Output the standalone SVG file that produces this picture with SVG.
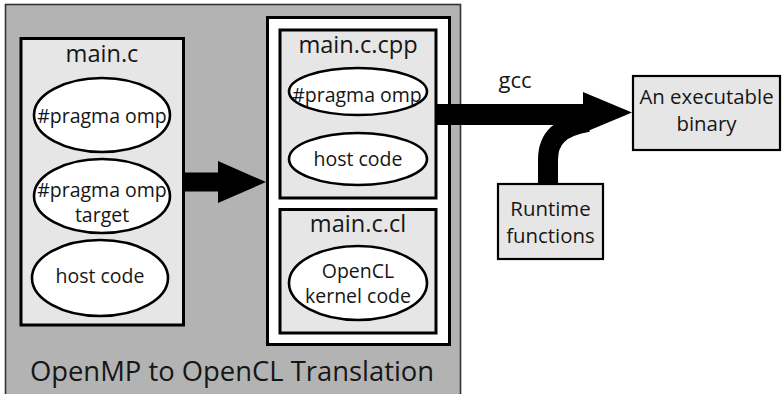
<svg xmlns="http://www.w3.org/2000/svg" width="783" height="394" viewBox="0 0 783 394">
  <style>
    text { font-family: "Open Sans", "Noto Sans", sans-serif; fill: #161616; text-anchor: middle; }
    .title { font-size: 23.6px; }
    .oval-text { font-size: 19.5px; }
    .box-text { font-size: 20.4px; }
    .big { font-size: 27.4px; }
    .file { fill: #e6e6e6; stroke: #000; stroke-width: 3; }
    .oval { fill: #fff; stroke: #000; stroke-width: 2.6; }
    .small-box { fill: #e6e6e6; stroke: #000; stroke-width: 2.2; }
    .flow { fill: #000; stroke: none; }
  </style>

  <!-- translation stage: grey panel -->
  <g id="translation">
    <rect x="5.5" y="4.5" width="455" height="392" fill="#b3b3b3" stroke="#333" stroke-width="1.6"/>
    <text class="big" x="232" y="381">OpenMP to OpenCL Translation</text>
  </g>

  <!-- source file -->
  <g id="main-c">
    <rect class="file" x="21" y="38.5" width="162.5" height="286.5"/>
    <text class="title" x="102" y="62">main.c</text>
    <ellipse class="oval" cx="102" cy="115" rx="68" ry="37"/>
    <text class="oval-text" x="102" y="123">#pragma omp</text>
    <ellipse class="oval" cx="102" cy="196" rx="68" ry="37"/>
    <text class="oval-text" x="102" y="197">#pragma omp</text>
    <text class="oval-text" x="102" y="222">target</text>
    <ellipse class="oval" cx="100" cy="278" rx="68" ry="38"/>
    <text class="oval-text" x="100" y="283">host code</text>
  </g>

  <!-- generated output files -->
  <g id="output">
    <rect x="267.5" y="17.5" width="182" height="327" fill="#fff" stroke="#000" stroke-width="3"/>
  </g>

  <g id="main-c-cpp">
    <rect class="file" x="280" y="30" width="156" height="168"/>
    <text class="title" x="358" y="53">main.c.cpp</text>
    <ellipse class="oval" cx="358" cy="91.5" rx="69" ry="23.5"/>
    <text class="oval-text" x="357" y="102">#pragma omp</text>
    <ellipse class="oval" cx="358" cy="159" rx="69" ry="26"/>
    <text class="oval-text" x="358" y="166">host code</text>
  </g>

  <g id="main-c-cl">
    <rect class="file" x="280" y="209.5" width="156" height="123.5"/>
    <text class="title" x="358" y="232">main.c.cl</text>
    <ellipse class="oval" cx="358" cy="283" rx="69" ry="37"/>
    <text class="oval-text" x="358" y="278">OpenCL</text>
    <text class="oval-text" x="358" y="303">kernel code</text>
  </g>

  <g id="runtime">
    <rect class="small-box" x="498" y="184" width="105" height="75"/>
    <text class="box-text" x="550.5" y="216">Runtime</text>
    <text class="box-text" x="550.5" y="243">functions</text>
  </g>

  <g id="binary">
    <rect class="small-box" x="633" y="76" width="147" height="74"/>
    <text class="box-text" x="706.5" y="104">An executable</text>
    <text class="box-text" x="706.5" y="131">binary</text>
  </g>

  <!-- connectors -->
  <g id="connectors">
    <path class="flow" d="M184,172.5 H218 V161 L266,182 L218,203 V191.5 H184 Z"/>
    <path d="M548,184 V160 C548,138 560,127 588,122" fill="none" stroke="#000" stroke-width="20"/>
    <path class="flow" d="M436,104 H583 V92 L632,112.5 L583,133 V125 H436 Z"/>
    <text class="box-text" x="515" y="88" style="font-size:22px">gcc</text>
  </g>
</svg>
